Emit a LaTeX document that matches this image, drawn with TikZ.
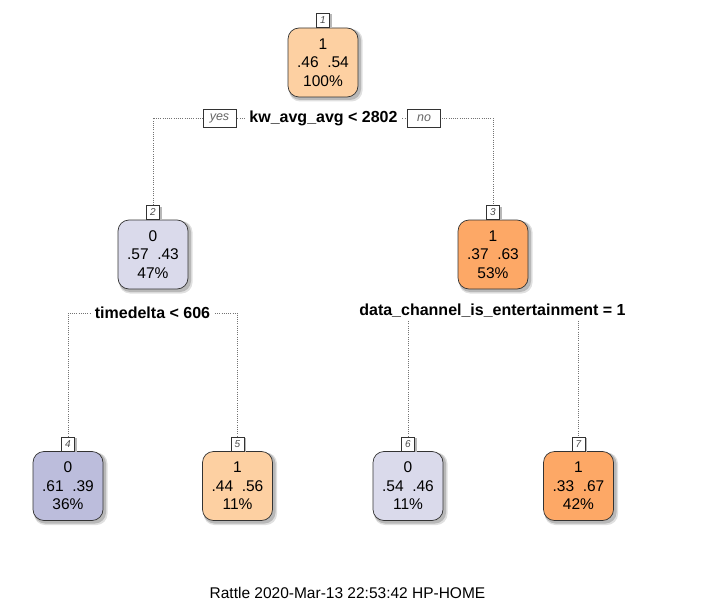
\documentclass[tikz,border=0pt]{standalone}
\usepackage{fontspec}
\setmainfont{Liberation Sans}
\usetikzlibrary{backgrounds}
\definecolor{orA}{HTML}{FDD0A2}
\definecolor{orB}{HTML}{FDA866}
\definecolor{puA}{HTML}{DADAEB}
\definecolor{puB}{HTML}{BCBDDC}
\newcommand\treenode[6]{%
  \fill[black!12, rounded corners=11pt] (#2-34,#3-33.5) rectangle (#2+39.5,#3+39);
  \fill[black!28, rounded corners=11pt] (#2-34,#3-33.5) rectangle (#2+38,#3+37.5);
  \node[nodebox, fill=#4] (#1) at (#2,#3) {#5};
  \fill[black!28] (#2-4.5,#3-48) rectangle (#2+8.5,#3-34.5);
  \node[numbox] (#1n) at (#1.north) {#6};
}
\newcommand\pp[3]{#1\\#2\hspace{8.6pt}#3}
\begin{document}
\begin{tikzpicture}[x=1pt,y=-1pt,
  nodebox/.style={draw=black!80, line width=0.7pt, rounded corners=11pt,
    minimum width=70pt, minimum height=69pt, inner sep=0pt, align=center,
    font=\fontsize{15.5}{18.5}\selectfont},
  numbox/.style={draw=black!80, fill=white, line width=0.5pt, minimum width=13pt,
    minimum height=14pt, inner sep=0pt, font=\fontsize{10}{10}\selectfont\itshape,
    text=black!70, anchor=south},
  splitlbl/.style={fill=white, inner xsep=4pt, inner ysep=2.5pt,
    font=\fontsize{16}{16}\selectfont\bfseries},
  yn/.style={draw=black!80, fill=white, line width=0.5pt, minimum width=33pt,
    minimum height=18pt, inner sep=0pt, font=\fontsize{12.5}{12.5}\selectfont\itshape,
    text=black!60},
  dots/.style={draw=black!55, line width=0.7pt, dash pattern=on 1pt off 1.2pt}]
\useasboundingbox (0,0) rectangle (701,607);

\treenode{n1}{323}{62.5}{orA}{\pp{1}{.46}{.54}\\100\%}{1}
\treenode{n2}{153}{254.5}{puA}{\pp{0}{.57}{.43}\\47\%}{2}
\treenode{n3}{493}{254.5}{orB}{\pp{1}{.37}{.63}\\53\%}{3}
\treenode{n4}{68}{486}{puB}{\pp{0}{.61}{.39}\\36\%}{4}
\treenode{n5}{237.5}{486}{orA}{\pp{1}{.44}{.56}\\11\%}{5}
\treenode{n6}{408}{486}{puA}{\pp{0}{.54}{.46}\\11\%}{6}
\treenode{n7}{578.5}{486}{orB}{\pp{1}{.33}{.67}\\42\%}{7}

\node[splitlbl] (s1) at (323.5,118) {kw\_avg\_avg < 2802};
\node[yn] (yes) at (219.5,118) {yes};
\node[yn] (no) at (424,118) {no};
\node[splitlbl] (s2) at (152.5,313) {timedelta < 606};
\node[splitlbl] (s3) at (492.5,311) {data\_channel\_is\_entertainment = 1};

\begin{scope}[on background layer]
  \draw[dots] (n2n.north) |- (s1.center) -| (n3n.north);
  \draw[dots] (n4n.north) |- (s2.center) -| (n5n.north);
  \draw[dots] (n6n.north) |- (s3.center) -| (n7n.north);
\end{scope}

\node[font=\fontsize{15.5}{15.5}\selectfont] (foot) at (347.5,593) {Rattle 2020-Mar-13 22:53:42 HP-HOME};
\end{tikzpicture}
\end{document}
